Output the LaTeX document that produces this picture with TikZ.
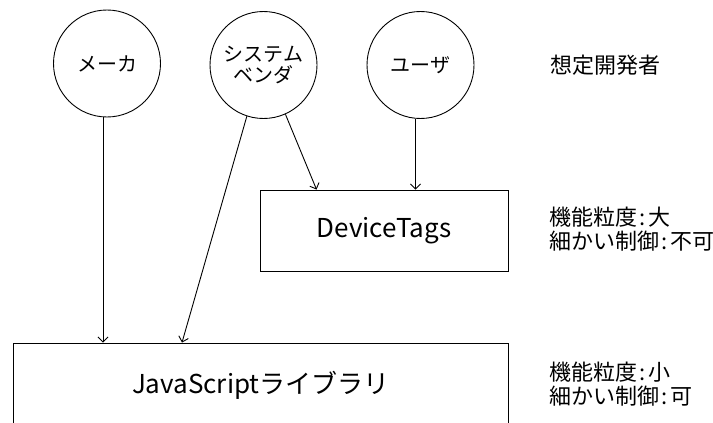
\documentclass[tikz,border=0pt]{standalone}
\usepackage{fontspec}
\setmainfont{Noto Sans CJK JP}
\usetikzlibrary{arrows.meta,calc}

% colon with a little air on each side
\newcommand{\sepcolon}{\kern2.5pt:\kern2.5pt}

\tikzset{
  actor/.style={circle, draw, line width=0.9pt, minimum size=107pt, inner sep=0pt,
    align=center, font=\fontsize{20}{21}\selectfont},
  layerbox/.style={rectangle, draw, line width=0.9pt, inner sep=0pt,
    font=\fontsize{26}{28}\selectfont},
  note/.style={anchor=west, align=left, inner sep=0pt,
    font=\fontsize{22}{24}\selectfont},
  link/.style={line width=0.9pt, -{Straight Barb[length=5pt,width=10pt]}}
}

\begin{document}
\begin{tikzpicture}[x=1pt,y=-1pt]
\useasboundingbox[fill=white] (0,0) rectangle (713,423);

% developers
\node[actor] (maker)  at (107,63.5) {メーカ};
\node[actor] (vendor) at (263.5,65) {システム\\ベンダ};
\node[actor] (user)   at (420.5,65) {ユーザ};
\node[note]  (devs)   at (550,65)   {想定開発者};

% layers
\node[layerbox, minimum width=248pt, minimum height=81pt] (tags) at (384,230.5) {DeviceTags};
\node[layerbox, minimum width=494.4pt, minimum height=84pt] (js) at (260.8,385) {JavaScriptライブラリ};

% characteristics
\node[note] (tagsnote) at (549,229) {機能粒度\sepcolon 大\\細かい制御\sepcolon 不可};
\node[note] (jsnote)   at (549,384) {機能粒度\sepcolon 小\\細かい制御\sepcolon 可};

% who uses what
\draw[link] ([xshift=-4pt]maker.south) -- ([xshift=-4pt]maker.south |- js.north);
\draw[link] (vendor.252) -- ([xshift=-78.8pt]js.north);
\draw[link] (vendor.294) -- ([xshift=57pt]tags.north west);
\draw[link] ([xshift=-5pt]user.south) -- ([xshift=-5pt]user.south |- tags.north);
\end{tikzpicture}
\end{document}
